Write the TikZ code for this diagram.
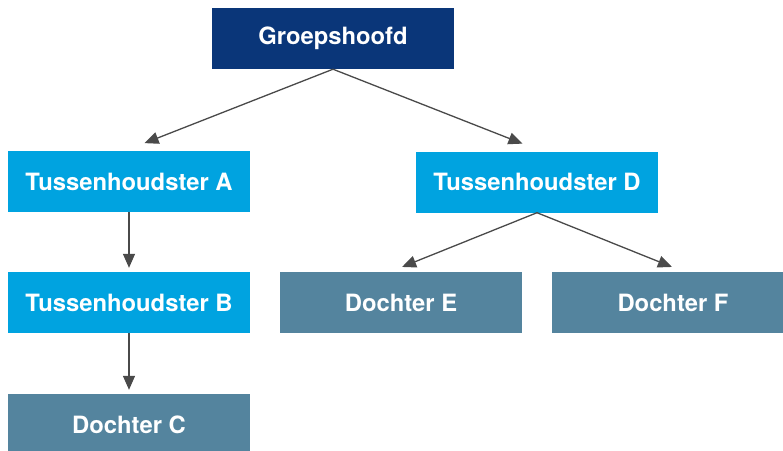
\documentclass[tikz,border=0pt]{standalone}
\usepackage{fontspec}
\setmainfont{TeX Gyre Heros}
\usetikzlibrary{arrows.meta, positioning}
\definecolor{navyblue}{HTML}{0A3679}
\definecolor{tlblue}{HTML}{00A3E0}
\definecolor{steelblue}{HTML}{54849E}
\definecolor{arrowgray}{HTML}{4A4A4A}

\begin{document}
\begin{tikzpicture}[
  x=1pt, y=-1pt,
  block/.style={rectangle, inner sep=0pt, minimum width=242pt, minimum height=61pt,
                align=center, text=white, font=\fontsize{23.8}{28}\selectfont\bfseries},
  hdblock/.style={block, fill=navyblue},
  tlblock/.style={block, fill=tlblue},
  dblock/.style={block, fill=steelblue},
  arrow/.style={-{Triangle[length=14pt, width=12pt]}, draw=arrowgray, fill=arrowgray, line width=1.3pt}
]
\useasboundingbox (0,0) rectangle (783,450);

\node[hdblock] (grp) at (333, 38.5) {Groepshoofd};
\node[tlblock] (tha) at (129, 181.5) {Tussenhoudster A};
\node[tlblock] (thd) at (537, 182) {Tussenhoudster D};
\node[tlblock] (thb) at (129, 302.5) {Tussenhoudster B};
\node[dblock]  (dce) at (401, 302.5) {Dochter E};
\node[dblock]  (dcf) at (673, 302.5) {Dochter F};
\node[dblock]  (dcc) at (129, 424.5) {Dochter C};

\draw[arrow, shorten >=21pt] (grp.south) -- ([xshift=-4pt]tha.north);
\draw[arrow, shorten >=21pt] (grp.south) -- ([xshift=5pt]thd.north);
\draw[arrow, shorten >=4pt] (tha) -- (thb);
\draw[arrow, shorten >=4pt] (thb) -- (dcc);
\draw[arrow, shorten >=13pt] (thd.south) -- ([xshift=-11pt]dce.north);
\draw[arrow, shorten >=13pt] (thd.south) -- ([xshift=11pt]dcf.north);
\end{tikzpicture}
\end{document}
